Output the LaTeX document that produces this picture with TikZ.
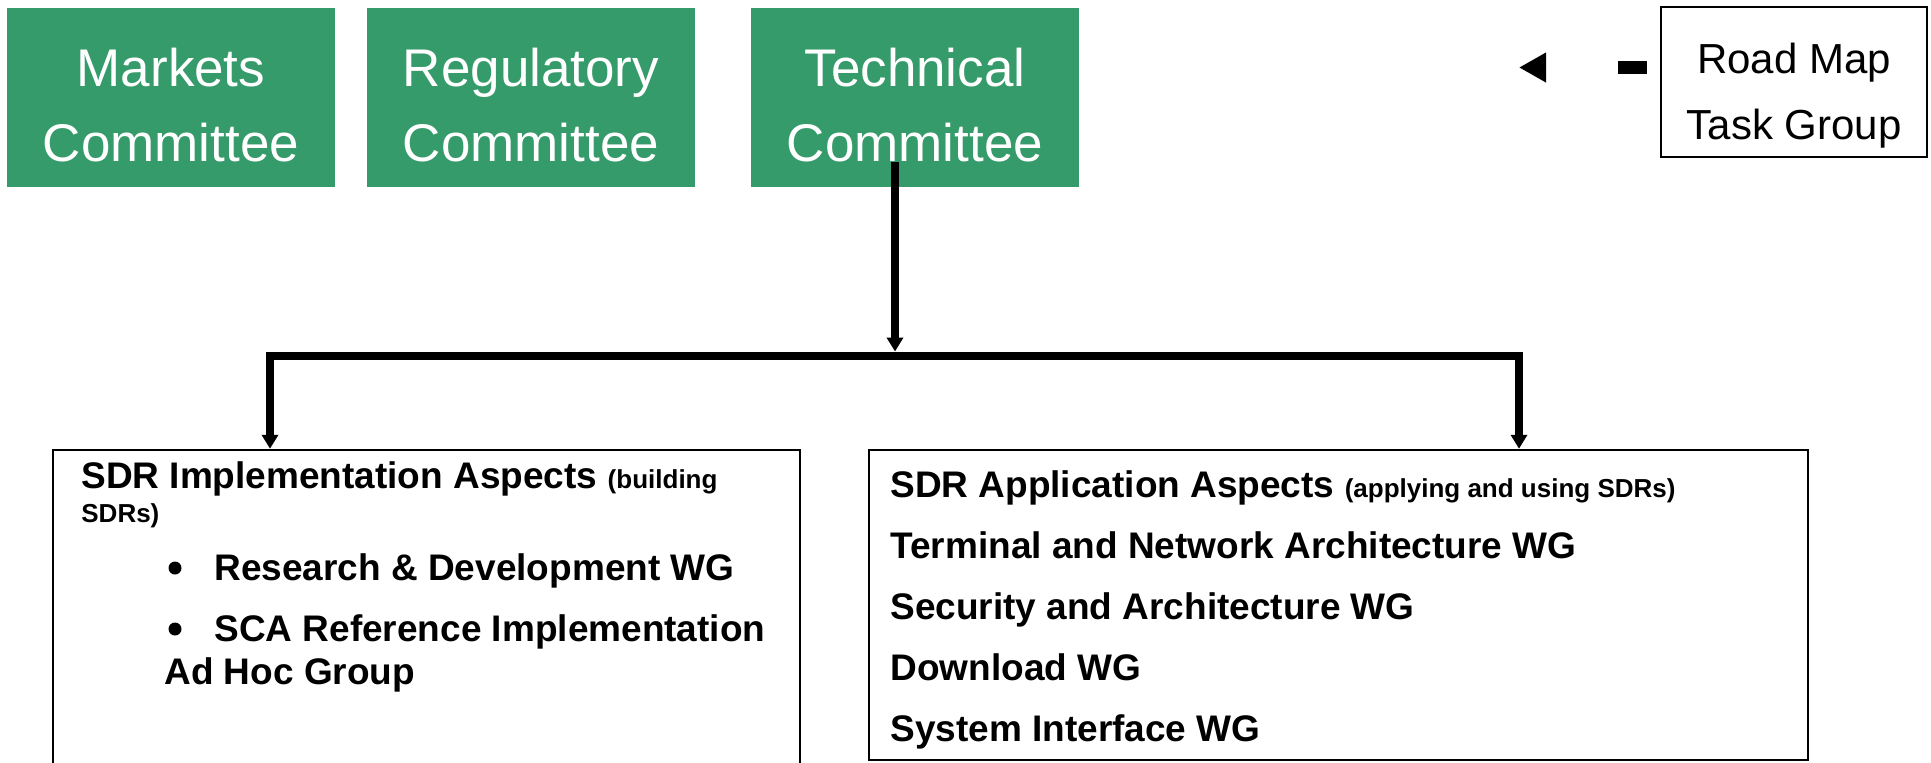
\documentclass[tikz,border=0pt]{standalone}
\usepackage{fontspec}
\setmainfont{Liberation Sans}
\usetikzlibrary{arrows.meta, positioning}

\definecolor{cgreen}{HTML}{369B6A}
\newcommand{\smallnote}{\fontsize{13}{15}\selectfont}

\tikzset{
    cbox/.style={fill=cgreen, outer sep=0pt, inner sep=0pt,
        minimum width=164pt, minimum height=89.5pt},
    ctext/.style={text=white, inner sep=0pt, align=center,
        font=\fontsize{26.5}{37.5}\selectfont},
    wgbox/.style={draw=black, line width=1.25pt, inner sep=0pt},
    head/.style={anchor=base west, inner sep=0pt,
        font=\fontsize{18.5}{22}\selectfont\bfseries},
    note/.style={head, font=\smallnote\bfseries},
    dot/.style={circle, fill=black, inner sep=0pt, minimum size=6.5pt},
    wire/.style={line width=4pt, line join=miter}
}

\begin{document}
\begin{tikzpicture}[x=0.5pt, y=-0.5pt, >={Triangle[length=7pt, width=8pt]}]
        \useasboundingbox (0,0) rectangle (1931,762);

        % Add the committees
        \node[cbox] (mkt) at (171,97.5) {};
        \node[cbox, right=16pt of mkt] (reg) {};
        \node[cbox, right=28pt of reg] (tc) {};
        \node[ctext, yshift=-3.8pt] (mkttxt) at (mkt.center) {Markets\\Committee};
        \node[ctext, yshift=-3.8pt] (regtxt) at (reg.center) {Regulatory\\Committee};
        \node[ctext, yshift=-3.8pt] (tctxt) at (tc.center) {Technical\\Committee};

        % Road map task group with its broken arrow
        \node[wgbox, minimum width=133pt, minimum height=75pt] (rm) at (1794,82) {};
        \node[inner sep=0pt, align=center, yshift=-7pt,
            font=\fontsize{21}{33}\selectfont] (rmtxt) at (rm.center) {Road Map\\Task Group};
        \coordinate (rmtip) at (1519,67.5);
        \draw[line width=6.5pt,
            dash pattern=on 0pt off 6.5pt on 14.5pt off 60pt,
            -{Triangle[length=13.5pt, width=14pt]}]
            (rm.west |- rmtip) -- (rmtip);

        % Add the working group boxes
        \node[wgbox, minimum width=373.5pt, minimum height=175pt] (impl) at (426.5,625) {};
        \node[wgbox, minimum width=469.5pt, minimum height=155pt] (app) at (1338.5,605) {};

        % Connect the technical committee to the boxes
        \coordinate (tbus) at (895,351.5);
        \coordinate (busL) at (270,355.5);
        \coordinate (busR) at (1519,355.5);
        \draw[wire, ->] (tbus |- tctxt.south) -- (tbus);
        \draw[wire, <->] (busL |- impl.north) -- (busL) -- (busR) -- (busR |- app.north);

        % Implementation aspects
        \node[head] (implhd) at (81,488) {SDR Implementation Aspects {\smallnote (building}};
        \node[note] (implhd2) at (81,522) {SDRs)};
        \node[dot] (bul1) at (175,568) {};
        \node[head] (rdwg) at (214,580) {Research \& Development WG};
        \node[dot] (bul2) at (175,629) {};
        \node[head] (scawg) at (214,641) {SCA Reference Implementation};
        \node[head] (adhoc) at (164,684) {Ad Hoc Group};

        % Application aspects
        \node[head] (apphd) at (890,497) {SDR Application Aspects {\smallnote (applying and using SDRs)}};
        \node[head] (tnarch) at (890,558) {Terminal and Network Architecture WG};
        \node[head] (secarch) at (890,619) {Security and Architecture WG};
        \node[head] (dload) at (890,680) {Download WG};
        \node[head] (sysif) at (890,741) {System Interface WG};
\end{tikzpicture}
\end{document}
